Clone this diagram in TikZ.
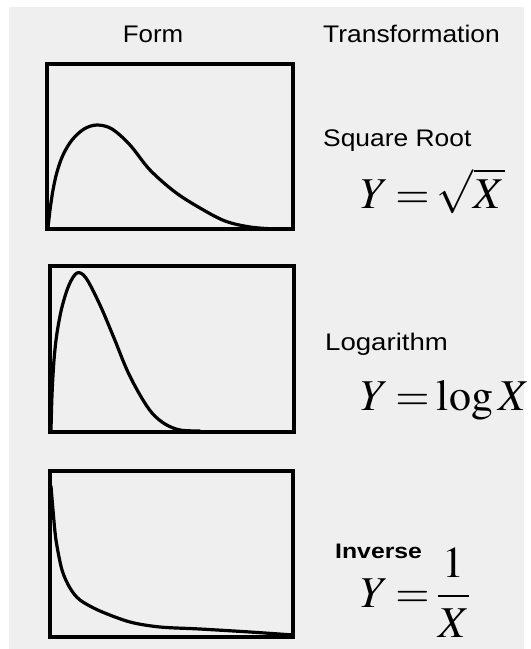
\documentclass[tikz,border=0pt]{standalone}
\usepackage{mathptmx}
\usepackage{fontspec}
\setmainfont{Liberation Serif}
\newfontfamily\labelfont{Liberation Sans}
\definecolor{bg}{HTML}{EFEFEF}
\tikzset{
  panel/.style={draw=black, line width=3.2pt},
  curve/.style={draw=black, line width=3.2pt, line cap=round, line join=round},
  head/.style={inner sep=0pt, anchor=base west, font=\labelfont\fontsize{24}{28}\selectfont},
  lab/.style={inner sep=0pt, anchor=base west, font=\labelfont\fontsize{24}{28}\selectfont},
  formula/.style={inner sep=0pt, anchor=base west, font=\fontsize{44}{50}\selectfont}
}
\begin{document}
\begin{tikzpicture}[x=1pt,y=-1pt]
\thickmuskip=3mu plus 2mu
\useasboundingbox (0,0) rectangle (531,649);
\fill[white] (0,0) rectangle (531,649);
\fill[bg] (9,7) rectangle (524,649);

% headers
\node[head, anchor=base] (form) at (153,42) {\scalebox{1.08}[1]{Form}};
\node[head] (trans) at (323,42) {\scalebox{1.1}[1]{Transformation}};

% panel 1: square root
\draw[panel] (47,64) rectangle (293,229);
\draw[curve] plot[smooth, tension=0.55] coordinates {
  (48,228) (50,210) (53,190) (57,172) (63,155) (72,140) (84,129) (97,125) (112,129)
  (130,145) (150,170) (175,192) (200,208) (225,221) (250,227) (275,229)};
\node[lab] (sqlab) at (323,146) {\scalebox{1.1}[1]{Square Root}};
\node[formula] (sqf) at (360,208) {$Y=\sqrt{X}$};

% panel 2: logarithm
\draw[panel] (50,266) rectangle (294,432);
\draw[curve] plot[smooth, tension=0.55] coordinates {
  (51,430) (52,395) (54,360) (57,333) (62,307) (69,285) (77,273) (86,278)
  (100,305) (114,338) (127,370) (140,395) (152,413) (165,424) (180,430) (200,431)};
\node[lab] (loglab) at (325,350) {\scalebox{1.15}[1]{Logarithm}};
\node[formula] (logf) at (360,410) {$Y=\log X$};

% panel 3: inverse
\draw[panel] (50,471) rectangle (293,637);
\draw[curve] plot[smooth, tension=0.5] coordinates {
  (51,486) (53,510) (56,540) (62,570) (70,588) (80,600) (100,611)
  (130,622) (160,627) (200,629) (250,632) (293,635)};
\node[lab, font=\labelfont\bfseries\fontsize{21}{24}\selectfont] (invlab) at (335,558) {\scalebox{1.18}[1]{Inverse}};
\node[formula] (invf) at (360,607) {$Y={\displaystyle\frac{1}{X}}$};
\end{tikzpicture}
\end{document}
